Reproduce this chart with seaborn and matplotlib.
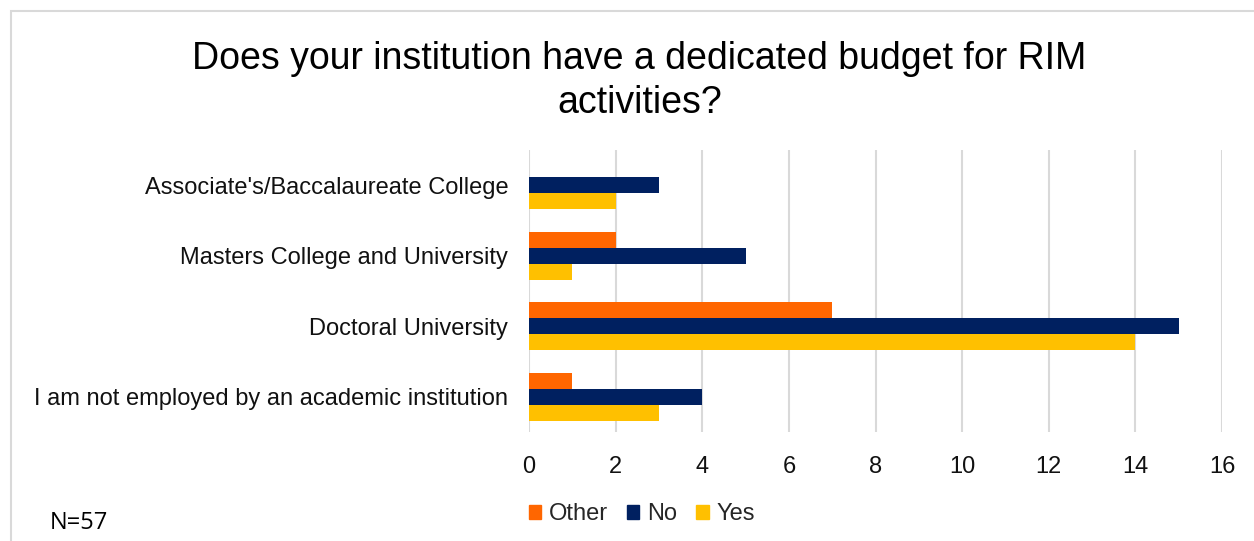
import matplotlib
matplotlib.use("Agg")
import matplotlib.pyplot as plt
from matplotlib.patches import Rectangle
import seaborn as sns
import pandas as pd

categories = [
    "Associate's/Baccalaureate College",
    "Masters College and University",
    "Doctoral University",
    "I am not employed by an academic institution",
]
other = [0, 2, 7, 1]
no = [3, 5, 15, 4]
yes = [2, 1, 14, 3]
series = ["Other", "No", "Yes"]
colors = ["#FF6600", "#002060", "#FFC000"]
x_ticks = [0, 2, 4, 6, 8, 10, 12, 14, 16]

df = pd.DataFrame({
    "Institution": categories * 3,
    "Response": [s for s in series for _ in categories],
    "Count": other + no + yes,
})

sns.set_theme(style="white")
plt.rcParams["font.family"] = ["Liberation Sans", "DejaVu Sans"]

fig = plt.figure(figsize=(12.54, 5.41), dpi=100)
ax = fig.add_axes([0.4219, 0.2015, 0.5526, 0.5213])

sns.barplot(data=df, y="Institution", x="Count", hue="Response",
            order=categories, hue_order=series, palette=colors,
            saturation=1, width=0.68, linewidth=0, orient="h", ax=ax)

ax.set_xlim(0, 16)
ax.set_xticks(x_ticks)
ax.xaxis.grid(True, color="#D9D9D9", linewidth=1.5)
ax.set_axisbelow(True)
for s in ax.spines.values():
    s.set_visible(False)
ax.set_xlabel("")
ax.set_ylabel("")
ax.tick_params(axis="y", length=0, pad=15, labelsize=17, labelcolor="#111111")
ax.tick_params(axis="x", length=0, pad=17, labelsize=17, labelcolor="#111111")

ax.legend_.remove()
handles = [Rectangle((0, 0), 1, 1, color=c) for c in colors]
fig.legend(handles, series, loc="center", bbox_to_anchor=(0.512, 0.049),
           ncol=3, frameon=False, fontsize=17, handlelength=0.52,
           handleheight=0.52, handletextpad=0.34, columnspacing=0.8)

fig.text(0.51, 0.85, "Does your institution have a dedicated budget for RIM\nactivities?",
         ha="center", va="center", fontsize=27, color="#000000", linespacing=1.3)

fig.text(0.04, 0.033, "N=57", fontsize=17, family=["Open Sans", "DejaVu Sans"],
         color="#000000", va="center")

fig.patches.append(Rectangle((11 / 1254, -0.1), 1.2, 1 - 11 / 541 + 0.1,
                             transform=fig.transFigure, fill=False,
                             edgecolor="#D9D9D9", linewidth=1.5))

fig.savefig("out.png", dpi=100)
